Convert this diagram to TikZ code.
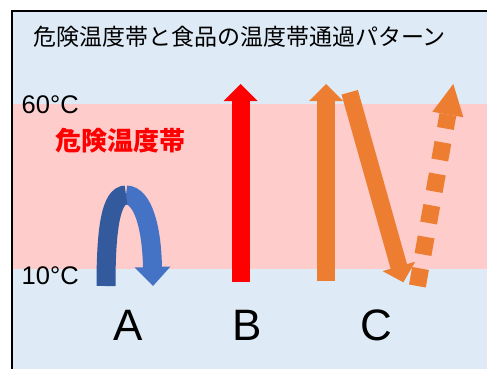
\documentclass[tikz,border=0pt]{standalone}
\usepackage{fontspec}
\setmainfont{Liberation Sans}
\newfontfamily\jpfont{Noto Sans CJK JP}
\usetikzlibrary{calc}
\definecolor{roombg}{HTML}{DEEBF7}
\definecolor{dangerbg}{HTML}{FFCCCC}
\definecolor{archdark}{HTML}{335A9C}
\definecolor{archlight}{HTML}{4472C4}
\definecolor{passorange}{HTML}{ED7D31}
\newcommand{\blockhead}[4]{\fill[#1] ($(#2)!#4!90:(#3)$) -- (#3) -- ($(#2)!#4!-90:(#3)$) -- cycle;}

\begin{document}
\begin{tikzpicture}[x=1pt, y=-1pt,
                    shaft/.style={line width=18pt},
                    templabel/.style={anchor=base west, inner sep=0pt, font=\fontsize{25.5}{25.5}\selectfont},
                    caselabel/.style={anchor=base, inner sep=0pt, font=\fontsize{44}{44}\selectfont}]
  \useasboundingbox (0,0) rectangle (487,369);
  \clip (0,0) rectangle (487,369);
  \fill[roombg] (12,11) rectangle (520,400);
  \fill[dangerbg] (12,104) rectangle (520,269);
  \draw[line width=2pt] (520,11) -- (12,11) -- (12,400);

  \node (title) at (239.5,37) [inner sep=0pt, font=\jpfont\fontsize{23}{23}\selectfont] {危険温度帯と食品の温度帯通過パターン};
  \node (t60) at (21.5,113) [templabel] {60°C};
  \node (t10) at (21.5,284) [templabel] {10°C};
  \node (zone) at (120,141) [inner sep=0pt, text=red, font=\jpfont\bfseries\fontsize{26}{26}\selectfont] {危険温度帯};

  % A
  \coordinate (As) at (106,286);
  \coordinate (Ap) at (126,195);
  \coordinate (Ah) at (152.5,267);
  \coordinate (At) at (153,286);
  \draw[line width=19pt, archlight] (Ap) .. controls (143,195) and (152,228) .. ($(Ah)+(0,2)$);
  \draw[line width=19pt, archdark] (As) .. controls (106,228) and (111,195) .. (Ap);
  \blockhead{archlight}{Ah}{At}{18pt}

  % B
  \coordinate (Bs) at (240.5,282);
  \coordinate (Bt) at (240.5,84);
  \coordinate (Bh) at ($(Bt)!17pt!(Bs)$);
  \draw[shaft, red] (Bs) -- ($(Bt)!15pt!(Bs)$);
  \blockhead{red}{Bh}{Bt}{17pt}

  % C
  \coordinate (Cs) at (326,281);
  \coordinate (Ct) at (326,84);
  \coordinate (Ch) at ($(Ct)!17pt!(Cs)$);
  \draw[shaft, passorange] (Cs) -- ($(Ct)!15pt!(Cs)$);
  \blockhead{passorange}{Ch}{Ct}{17pt}

  \coordinate (Ds) at (349.7,92.3);
  \coordinate (Dt) at (403.3,282.3);
  \coordinate (Dh) at ($(Dt)!16.5pt!(Ds)$);
  \draw[line width=17pt, passorange] (Ds) -- ($(Dt)!14.5pt!(Ds)$);
  \blockhead{passorange}{Dh}{Dt}{17pt}

  \coordinate (Es) at (417.4,286);
  \coordinate (Et) at (453.3,84);
  \coordinate (Eh) at ($(Et)!31pt!(Es)$);
  \draw[line width=17pt, passorange, dash pattern=on 17.8pt off 14.2pt] (Es) -- (Eh);
  \blockhead{passorange}{Eh}{Et}{15.75pt}

  \node (la) at (128,340) [caselabel] {A};
  \node (lb) at (247,340) [caselabel] {B};
  \node (lc) at (376,340) [caselabel] {C};
\end{tikzpicture}
\end{document}
